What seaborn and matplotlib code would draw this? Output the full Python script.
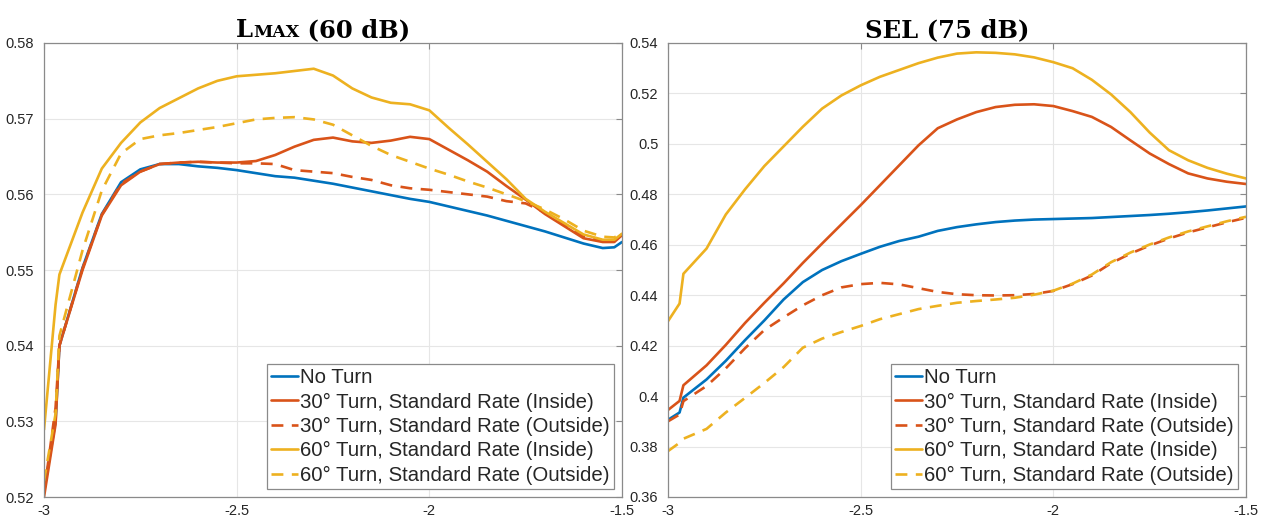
import numpy as np
import matplotlib
matplotlib.use("Agg")
import matplotlib.pyplot as plt
import seaborn as sns
from matplotlib.offsetbox import TextArea, HPacker, AnchoredOffsetbox

# ---- data ----
x_lmax = [-3.0, -2.97, -2.96, -2.9, -2.85, -2.8, -2.75, -2.7, -2.65, -2.6, -2.55,
          -2.5, -2.45, -2.4, -2.35, -2.3, -2.25, -2.2, -2.15, -2.1, -2.05, -2.0,
          -1.95, -1.9, -1.85, -1.8, -1.75, -1.7, -1.65, -1.6, -1.55, -1.52, -1.5]

lmax_no_turn = [0.5207, 0.5300, 0.5400, 0.5503, 0.5574, 0.5616, 0.5633, 0.5640, 0.5640,
                0.5637, 0.5635, 0.5632, 0.5628, 0.5624, 0.5622, 0.5618, 0.5614, 0.5609,
                0.5604, 0.5599, 0.5594, 0.5590, 0.5584, 0.5578, 0.5572, 0.5565, 0.5558,
                0.5551, 0.5543, 0.5535, 0.5529, 0.5530, 0.5537]
lmax_30_in = [0.5200, 0.5296, 0.5400, 0.5500, 0.5572, 0.5612, 0.5630, 0.5640, 0.5642,
              0.5643, 0.5642, 0.5642, 0.5644, 0.5652, 0.5663, 0.5672, 0.5675, 0.5670,
              0.5668, 0.5671, 0.5676, 0.5673, 0.5659, 0.5645, 0.5630, 0.5611, 0.5593,
              0.5574, 0.5558, 0.5542, 0.5537, 0.5537, 0.5546]
lmax_30_out = [0.5205, 0.5318, 0.5400, 0.5502, 0.5573, 0.5614, 0.5630, 0.5640, 0.5642,
               0.5643, 0.5642, 0.5641, 0.5641, 0.5640, 0.5632, 0.5630, 0.5628, 0.5623,
               0.5619, 0.5612, 0.5608, 0.5606, 0.5603, 0.5600, 0.5597, 0.5591, 0.5588,
               0.5576, 0.5560, 0.5544, 0.5539, 0.5539, 0.5547]
lmax_60_in = [0.5289, 0.5454, 0.5494, 0.5576, 0.5634, 0.5668, 0.5695, 0.5714, 0.5727,
              0.5740, 0.5750, 0.5756, 0.5758, 0.5760, 0.5763, 0.5766, 0.5757, 0.5740,
              0.5728, 0.5721, 0.5719, 0.5711, 0.5688, 0.5666, 0.5643, 0.5620, 0.5594,
              0.5577, 0.5562, 0.5547, 0.5540, 0.5540, 0.5548]
lmax_60_out = [0.5221, 0.5310, 0.5413, 0.5526, 0.5605, 0.5654, 0.5673, 0.5678, 0.5681,
               0.5685, 0.5689, 0.5694, 0.5699, 0.5701, 0.5702, 0.5699, 0.5692, 0.5678,
               0.5664, 0.5652, 0.5643, 0.5634, 0.5626, 0.5617, 0.5609, 0.5600, 0.5591,
               0.5580, 0.5567, 0.5552, 0.5544, 0.5543, 0.5549]

x_sel = [-3.0, -2.97, -2.96, -2.9, -2.85, -2.8, -2.75, -2.7, -2.65, -2.6, -2.55,
         -2.5, -2.45, -2.4, -2.35, -2.3, -2.25, -2.2, -2.15, -2.1, -2.05, -2.0,
         -1.95, -1.9, -1.85, -1.8, -1.75, -1.7, -1.65, -1.6, -1.55, -1.5]

sel_no_turn = [0.3906, 0.3935, 0.3994, 0.4066, 0.4140, 0.4222, 0.4300, 0.4383, 0.4452,
               0.4500, 0.4535, 0.4564, 0.4592, 0.4615, 0.4632, 0.4655, 0.4670, 0.4681,
               0.4690, 0.4696, 0.4700, 0.4702, 0.4704, 0.4706, 0.4710, 0.4714, 0.4718,
               0.4723, 0.4729, 0.4736, 0.4744, 0.4752]
sel_30_in = [0.3945, 0.3981, 0.4043, 0.4122, 0.4203, 0.4290, 0.4370, 0.4447, 0.4528,
             0.4605, 0.4681, 0.4757, 0.4836, 0.4915, 0.4994, 0.5062, 0.5097, 0.5126,
             0.5146, 0.5155, 0.5157, 0.5150, 0.5130, 0.5107, 0.5067, 0.5014, 0.4962,
             0.4920, 0.4883, 0.4863, 0.4850, 0.4841]
sel_30_out = [0.3900, 0.3927, 0.3980, 0.4040, 0.4110, 0.4190, 0.4262, 0.4312, 0.4360,
              0.4400, 0.4431, 0.4444, 0.4449, 0.4443, 0.4428, 0.4413, 0.4404, 0.4400,
              0.4399, 0.4400, 0.4405, 0.4417, 0.4444, 0.4478, 0.4527, 0.4565, 0.4597,
              0.4625, 0.4649, 0.4669, 0.4689, 0.4707]
sel_60_in = [0.4297, 0.4367, 0.4485, 0.4585, 0.4720, 0.4820, 0.4912, 0.4990, 0.5068,
             0.5140, 0.5192, 0.5232, 0.5266, 0.5293, 0.5320, 0.5342, 0.5358, 0.5363,
             0.5361, 0.5355, 0.5343, 0.5324, 0.5300, 0.5254, 0.5196, 0.5126, 0.5045,
             0.4975, 0.4935, 0.4905, 0.4882, 0.4863]
sel_60_out = [0.3782, 0.3815, 0.3831, 0.3870, 0.3935, 0.3993, 0.4052, 0.4115, 0.4192,
              0.4228, 0.4254, 0.4278, 0.4305, 0.4325, 0.4345, 0.4358, 0.4370, 0.4377,
              0.4383, 0.4390, 0.4402, 0.4418, 0.4446, 0.4482, 0.4531, 0.4569, 0.4601,
              0.4629, 0.4653, 0.4673, 0.4693, 0.4711]

labels = ["No Turn",
          "30° Turn, Standard Rate (Inside)",
          "30° Turn, Standard Rate (Outside)",
          "60° Turn, Standard Rate (Inside)",
          "60° Turn, Standard Rate (Outside)"]
colors = ["#0072BD", "#D95319", "#D95319", "#EDB120", "#EDB120"]
dashed = [False, False, True, False, True]

x_ticks = [-3, -2.5, -2, -1.5]
lmax_ticks = [0.52, 0.53, 0.54, 0.55, 0.56, 0.57, 0.58]
sel_ticks = [0.36, 0.38, 0.40, 0.42, 0.44, 0.46, 0.48, 0.50, 0.52, 0.54]

# ---- style ----
sns.set_style("white")
plt.rcParams["font.family"] = ["Liberation Sans", "DejaVu Sans"]
plt.rcParams["axes.unicode_minus"] = False

box_col = "#8a8a8a"
txt_col = "#262626"

fig = plt.figure(figsize=(12.67, 5.2), dpi=100)
ax1 = fig.add_axes([44 / 1267, 23 / 520, 578 / 1267, 454 / 520])
ax2 = fig.add_axes([668 / 1267, 23 / 520, 578 / 1267, 454 / 520])


def draw(ax, x, series, yticks, title_parts):
    for ys, lab, c, d in zip(series, labels, colors, dashed):
        sns.lineplot(x=x, y=ys, ax=ax, color=c, lw=1.9, label=lab,
                     estimator=None, sort=False)
        if d:
            ax.lines[-1].set_dashes((4.5, 3.2))
    ax.set_xlim(-3, -1.5)
    ax.set_ylim(yticks[0], yticks[-1])
    ax.set_xticks(x_ticks)
    ax.set_xticklabels([f"{t:g}" for t in x_ticks])
    ax.set_yticks(yticks)
    ax.set_yticklabels([f"{t:g}" for t in yticks])
    ax.grid(True, color="#e6e6e6", lw=0.8)
    ax.set_axisbelow(True)
    for s in ax.spines.values():
        s.set_color(box_col)
        s.set_linewidth(0.9)
    ax.tick_params(direction="in", length=4, width=0.8, color=box_col,
                   labelcolor=txt_col, labelsize=10.5, top=True, right=True)
    ax.tick_params(axis="y", pad=7)
    ax.tick_params(axis="x", pad=5)
    ax.set_xlabel("")
    ax.set_ylabel("")
    leg = ax.legend(loc="lower right", fontsize=14.7, frameon=True, fancybox=False,
                    framealpha=1, edgecolor=box_col, borderaxespad=0.38,
                    labelspacing=0.26, handlelength=1.3, handletextpad=0.12,
                    borderpad=0.22)
    leg.get_frame().set_linewidth(0.9)

    boxes = [TextArea(t, textprops=dict(fontsize=s, fontweight="bold",
                                        family="DejaVu Serif", color="black"))
             for t, s in title_parts]
    pack = HPacker(children=boxes, align="baseline", pad=0, sep=0)
    ab = AnchoredOffsetbox(loc="lower center", child=pack, frameon=False, pad=0,
                           bbox_to_anchor=(0.483, 1.0), bbox_transform=ax.transAxes,
                           borderpad=0.05)
    ax.add_artist(ab)


draw(ax1, x_lmax, [lmax_no_turn, lmax_30_in, lmax_30_out, lmax_60_in, lmax_60_out],
     lmax_ticks, [("L", 17.5), ("MAX", 12.5), (" (60 dB)", 17.5)])
draw(ax2, x_sel, [sel_no_turn, sel_30_in, sel_30_out, sel_60_in, sel_60_out],
     sel_ticks, [("SEL (75 dB)", 17.5)])

fig.savefig("out.png", dpi=100)
plt.close(fig)
